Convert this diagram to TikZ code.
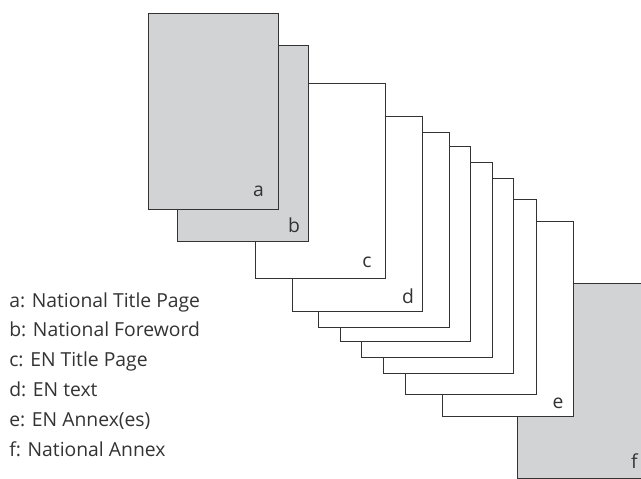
\documentclass[tikz,border=0pt]{standalone}
\usepackage{fontspec}
\setmainfont{Open Sans}
\usepackage{tikz}
\definecolor{sheetgrey}{RGB}{210,211,213}
\definecolor{edgegrey}{RGB}{51,51,51}

\begin{document}
\begin{tikzpicture}[x=0.75pt,y=-0.75pt,
   greysheet/.style={fill=sheetgrey,draw=edgegrey,line width=0.75pt},
   whitesheet/.style={fill=white,draw=edgegrey,line width=0.75pt},
   tag/.style={font=\fontsize{14.5}{17}\selectfont,color=edgegrey},
   key/.style={font=\fontsize{14.5}{17}\selectfont,color=edgegrey,anchor=base west,inner sep=0pt}]
   \useasboundingbox (0,0) rectangle (641,478);
   % sheets, back to front
   \draw[greysheet]  (517.7,283.0) rectangle +(130.5,195.0);
   \draw[whitesheet] (442.7,221.5) rectangle +(130.5,195.0);
   \draw[whitesheet] (405.5,199.5) rectangle +(130.5,195.0);
   \draw[whitesheet] (383.3,178.0) rectangle +(130.5,195.0);
   \draw[whitesheet] (361.7,162.0) rectangle +(130.5,195.0);
   \draw[whitesheet] (340.2,146.0) rectangle +(130.5,195.0);
   \draw[whitesheet] (318.7,132.3) rectangle +(130.5,195.0);
   \draw[whitesheet] (292.3,116.0) rectangle +(130.5,195.0);
   \draw[whitesheet] (255.0, 83.3) rectangle +(130.5,195.0);
   \draw[greysheet]  (177.7, 46.0) rectangle +(130.5,195.0);
   \draw[greysheet]  (148.3, 14.0) rectangle +(130.5,195.0);
   % sheet letters
   \node[tag] (taga) at (258.5,191.5) {a};
   \node[tag] (tagb) at (294.0,225.0) {b};
   \node[tag] (tagc) at (367.0,262.5) {c};
   \node[tag] (tagd) at (408.0,296.5) {d};
   \node[tag] (tage) at (558.0,403.0) {e};
   \node[tag] (tagf) at (634.5,461.5) {f};
   % key
   \node[key] (keya) at (9,307.0) {a: National Title Page};
   \node[key] (keyb) at (9,336.8) {b: National Foreword};
   \node[key] (keyc) at (9,366.6) {c: EN Title Page};
   \node[key] (keyd) at (9,396.4) {d: EN text};
   \node[key] (keye) at (9,426.2) {e: EN Annex(es)};
   \node[key] (keyf) at (9,456.0) {f: National Annex};
\end{tikzpicture}
\end{document}
